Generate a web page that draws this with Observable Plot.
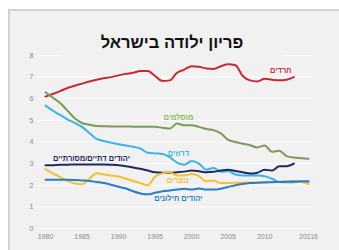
<!DOCTYPE html>
<html><head><meta charset="utf-8">
<script src="https://cdn.jsdelivr.net/npm/d3@7"></script>
<script src="https://cdn.jsdelivr.net/npm/@observablehq/plot@0.6"></script>
<style>
body{margin:0;background:#fff;}
#wrap{position:relative;width:339px;height:250px;overflow:hidden;background:#fff;}
#panel{position:absolute;left:8px;top:9px;width:340px;height:250px;background:#f1f1f1;border-left:2px solid #d2d2d2;border-top:2px solid #d2d2d2;}
#chart{position:absolute;left:0;top:0;}
#title{position:absolute;left:60px;top:29px;width:224px;height:28px;background:#f1f1f1;text-align:center;font-family:"Liberation Sans",Arial,sans-serif;font-weight:bold;font-size:16.5px;line-height:26px;color:#111;direction:rtl;}
</style></head>
<body>
<div id="wrap"><div id="panel"></div><div id="chart"></div><div id="title">פריון ילודה בישראל</div></div>
<script>
const titleText = "פריון ילודה בישראל";
const tickYears = [1980,1985,1990,1995,2000,2005,2010,2016];
const tickLabels = ["1980","1985","1990","1995","2000","2005","2010","20116"];
const yTicks = [0,1,2,3,4,5,6,7,8];

const seriesNames = ["חרדים","מוסלמים","דרוזים","יהודים דתיים/מסורתיים","נוצרים","יהודים חילונים"];
const seriesColors = ["#c62a30","#7c9a5c","#3cb3e6","#1e2a5e","#f3c12e","#2a7cc3"];
const labelColors = ["#c6323a","#8fbf60","#3cb3e6","#1e2a5e","#f3c12e","#2a7cc3"];

const haredimYears = [1980,1981,1982,1983,1984,1985,1986,1987,1988,1989,1990,1991,1992,1993,1994,1995,1996,1997,1998,1999,2000,2001,2002,2003,2004,2005,2006,2007,2008,2009,2010,2011,2012,2013,2014];
const haredim = [6.1,6.22,6.35,6.5,6.6,6.7,6.8,6.88,6.95,7.0,7.08,7.15,7.2,7.28,7.28,7.05,6.82,6.85,7.2,7.35,7.5,7.48,7.4,7.38,7.5,7.6,7.55,7.05,6.85,6.8,6.92,6.88,6.85,6.88,7.0];

const fullYears = [1980,1981,1982,1983,1984,1985,1986,1987,1988,1989,1990,1991,1992,1993,1994,1995,1996,1997,1998,1999,2000,2001,2002,2003,2004,2005,2006,2007,2008,2009,2010,2011,2012,2013,2014,2015,2016];
const muslims = [6.3,6.05,5.8,5.45,5.1,4.88,4.8,4.74,4.73,4.72,4.72,4.72,4.71,4.7,4.7,4.7,4.66,4.62,4.85,4.77,4.78,4.7,4.6,4.55,4.4,4.1,4.0,3.92,3.85,3.75,3.84,3.55,3.6,3.35,3.28,3.25,3.22];
const druze = [5.68,5.45,5.25,5.05,4.88,4.7,4.42,4.15,4.05,3.97,3.9,3.84,3.78,3.7,3.5,3.47,3.45,3.3,3.05,2.95,3.12,3.0,2.72,2.8,2.62,2.66,2.5,2.45,2.45,2.45,2.42,2.3,2.15,2.14,2.14,2.15,2.15];

const religiousYears = haredimYears;
const religious = [2.92,2.93,2.95,2.95,2.96,2.96,2.96,2.96,2.96,2.95,2.93,2.88,2.82,2.76,2.68,2.6,2.58,2.58,2.6,2.63,2.68,2.65,2.6,2.62,2.68,2.72,2.66,2.6,2.54,2.58,2.72,2.68,2.88,2.88,3.0];

const christians = [2.75,2.55,2.38,2.2,2.08,2.05,2.3,2.55,2.5,2.45,2.4,2.3,2.2,2.1,2.0,2.4,2.55,2.6,2.45,2.45,2.52,2.42,2.18,2.22,2.1,2.1,2.12,2.12,2.13,2.13,2.14,2.15,2.16,2.18,2.2,2.15,2.05];
const secular = [2.26,2.26,2.25,2.25,2.24,2.22,2.2,2.15,2.1,2.02,1.93,1.85,1.72,1.62,1.58,1.65,1.72,1.76,1.8,1.84,1.8,1.85,1.8,1.8,1.84,1.92,2.0,2.06,2.1,2.12,2.13,2.14,2.15,2.16,2.17,2.18,2.18];

const labelX = [2012.2,1998.2,1998.2,1986.3,1998.1,1998.2];
const labelY = [7.31,5.12,3.47,3.24,2.2,1.39];

const seriesYears = [haredimYears, fullYears, fullYears, religiousYears, fullYears, fullYears];
const seriesValues = [haredim, muslims, druze, religious, christians, secular];

const rows = [];
seriesNames.forEach((name, i) => {
  seriesYears[i].forEach((yr, j) => rows.push({series: name, year: yr, value: seriesValues[i][j]}));
});
const labels = seriesNames.map((name, i) => ({name, x: labelX[i], y: labelY[i], color: labelColors[i]}));

const chart = Plot.plot({
  width: 339,
  height: 250,
  marginLeft: 45,
  marginRight: 31,
  marginTop: 55,
  marginBottom: 22,
  style: {background: "transparent", fontFamily: "'Liberation Sans', Arial, sans-serif"},
  x: {domain: [1980, 2016], ticks: tickYears, tickFormat: (d) => tickLabels[tickYears.indexOf(d)], tickSize: 0, tickPadding: 7, label: null},
  y: {domain: [0, 8], ticks: yTicks, tickSize: 0, tickPadding: 12, label: null},
  color: {domain: seriesNames, range: seriesColors},
  marks: [
    Plot.gridY(yTicks, {stroke: "#fbfbfb", strokeOpacity: 1, strokeWidth: 1.2, insetLeft: -8, insetRight: -5}),
    Plot.axisX({ticks: tickYears, tickFormat: (d) => tickLabels[tickYears.indexOf(d)], tickSize: 0, tickPadding: 6, fontSize: 7, fill: "#8a8a8a", label: null}),
    Plot.axisY({ticks: yTicks, tickSize: 0, tickPadding: 12, fontSize: 7, fill: "#8a8a8a", label: null}),
    Plot.line(rows, {x: "year", y: "value", z: "series", stroke: "series", strokeWidth: 2, curve: "monotone-x"}),
    Plot.text(labels, {x: "x", y: "y", text: "name", fill: "color", fontSize: 7.5, fontWeight: "bold"})
  ]
});
document.getElementById("chart").appendChild(chart);
document.getElementById("title").textContent = titleText;
</script>
</body></html>
